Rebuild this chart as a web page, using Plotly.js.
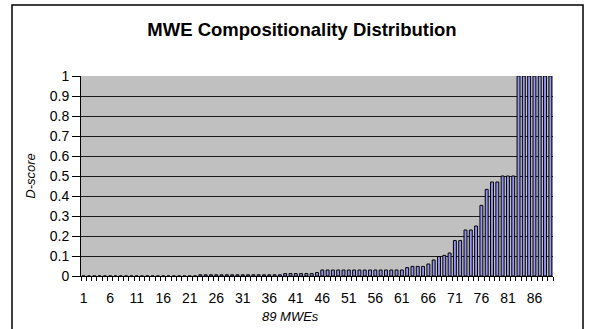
<!DOCTYPE html>
<html>
<head>
<meta charset="utf-8">
<script src="https://cdn.plot.ly/plotly-3.0.1.min.js"></script>
<style>html,body{margin:0;padding:0;background:#fff;}#chart{width:591px;height:329px;}</style>
</head>
<body>
<div id="chart"></div>
<script>
// Category indices (89 MWEs)
var categories = [1,2,3,4,5,6,7,8,9,10,11,12,13,14,15,16,17,18,19,20,
  21,22,23,24,25,26,27,28,29,30,31,32,33,34,35,36,37,38,39,40,
  41,42,43,44,45,46,47,48,49,50,51,52,53,54,55,56,57,58,59,60,
  61,62,63,64,65,66,67,68,69,70,71,72,73,74,75,76,77,78,79,80,
  81,82,83,84,85,86,87,88,89];

// D-score values
var dScores = [0,0,0,0,0,0,0,0,0,0,0,0,0,0,0,0,0,0,0,0,
  0,0,0.006,0.006,0.006,0.006,0.006,0.006,0.006,0.006,0.006,0.006,0.006,0.006,0.006,0.006,0.006,0.006,0.012,0.012,
  0.012,0.012,0.012,0.012,0.017,0.03,0.03,0.03,0.03,0.03,0.03,0.03,0.03,0.03,0.03,0.03,0.03,0.03,0.03,0.03,
  0.03,0.042,0.048,0.048,0.048,0.06,0.08,0.097,0.103,0.115,0.177,0.177,0.23,0.23,0.25,0.353,0.433,0.47,0.47,0.5,
  0.5,0.5,1,1,1,1,1,1,1];

var xTickVals = [1,6,11,16,21,26,31,36,41,46,51,56,61,66,71,76,81,86];
var xTickText = ['1','6','11','16','21','26','31','36','41','46','51','56','61','66','71','76','81','86'];

var chartTitle = 'MWE Compositionality Distribution';
var xTitle = '89 MWEs';
var yTitle = 'D-score';

var trace = {
  type: 'bar',
  x: categories,
  y: dScores,
  marker: {color: '#9494F4', line: {color: '#000000', width: 1}},
  hoverinfo: 'x+y'
};

var layout = {
  width: 591, height: 329,
  margin: {l: 81, r: 38, t: 76, b: 53, pad: 0},
  paper_bgcolor: '#ffffff',
  plot_bgcolor: '#C0C0C0',
  bargap: 0.45,
  showlegend: false,
  font: {family: 'Liberation Sans, Arial, sans-serif', color: '#000', size: 13},
  title: {
    text: '<b>' + chartTitle + '</b>',
    font: {family: 'Liberation Sans, Arial, sans-serif', size: 18.5, color: '#000'},
    x: 302 / 591, xref: 'container', xanchor: 'center',
    y: 1 - 30 / 329, yref: 'container', yanchor: 'middle'
  },
  xaxis: {
    range: [0.5, 89.5],
    tickmode: 'array', tickvals: xTickVals, ticktext: xTickText,
    ticks: 'outside', ticklen: 9, tickcolor: 'rgba(0,0,0,0)', showgrid: false, zeroline: false,
    showline: true, linecolor: '#000', linewidth: 1,
    tickfont: {size: 14},
    minor: {tick0: 0.5, dtick: 1, ticks: 'outside', ticklen: 4, tickcolor: '#000', tickwidth: 1, showgrid: false}
  },
  yaxis: {
    range: [0, 1], dtick: 0.1, tick0: 0,
    ticks: 'outside', ticklen: 8, tickcolor: '#000', tickwidth: 1,
    showgrid: true, gridcolor: '#1a1a1a', gridwidth: 1,
    zeroline: false, showline: true, linecolor: '#000', linewidth: 1,
    tickfont: {size: 14},
    title: {text: '<i>' + yTitle + '</i>', font: {size: 13}, standoff: 11}
  },
  annotations: [{
    text: '<i>' + xTitle + '</i>', xref: 'paper', yref: 'paper',
    x: (290 - 81) / 472, y: -(316 - 276) / 200,
    xanchor: 'center', yanchor: 'middle', showarrow: false,
    font: {size: 13}
  }],
  shapes: [{
    type: 'rect', xref: 'paper', yref: 'paper',
    x0: -(81 - 12) / 472, x1: (583 - 81) / 472, y0: -0.35, y1: (276 - 5) / 200,
    line: {color: '#000', width: 1.5}, fillcolor: 'rgba(0,0,0,0)', layer: 'above'
  }]
};

Plotly.newPlot('chart', [trace], layout, {displayModeBar: false, staticPlot: true});
</script>
</body>
</html>
